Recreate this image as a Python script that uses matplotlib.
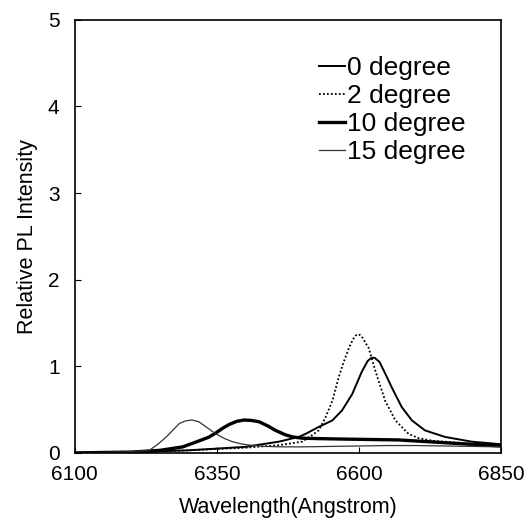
import matplotlib
matplotlib.use('Agg')
import matplotlib.pyplot as plt

plt.rcParams['font.family'] = ['Liberation Sans', 'DejaVu Sans']

# values (wavelength in Angstrom, relative intensity)
wl_0deg = [6100, 6200, 6300, 6400, 6459, 6494, 6506, 6529, 6553, 6570, 6588, 6605,
           6615, 6620, 6624, 6628, 6636, 6645, 6658, 6675, 6693, 6716, 6751, 6798, 6850]
pl_0deg = [0.0, 0.01, 0.03, 0.07, 0.13, 0.185, 0.22, 0.30, 0.375, 0.49, 0.68, 0.94,
           1.06, 1.09, 1.10, 1.095, 1.05, 0.93, 0.75, 0.53, 0.375, 0.26, 0.185, 0.13, 0.10]

wl_2deg = [6100, 6200, 6300, 6400, 6460, 6500, 6512, 6529, 6541, 6553, 6564, 6573, 6582,
           6590, 6594, 6598, 6602, 6606, 6617, 6629, 6646, 6664, 6687, 6705, 6730, 6770,
           6810, 6850]
pl_2deg = [0.0, 0.01, 0.03, 0.06, 0.09, 0.13, 0.18, 0.26, 0.41, 0.60, 0.87, 1.05, 1.21,
           1.32, 1.355, 1.37, 1.36, 1.33, 1.21, 0.94, 0.60, 0.375, 0.22, 0.17, 0.14, 0.12,
           0.10, 0.08]

wl_10deg = [6100, 6200, 6250, 6290, 6319, 6335, 6348, 6360, 6372, 6385, 6398, 6411, 6424,
            6440, 6453, 6470, 6483, 6500, 6530, 6570, 6620, 6670, 6720, 6770, 6810, 6850]
pl_10deg = [0.0, 0.01, 0.03, 0.07, 0.14, 0.18, 0.23, 0.285, 0.33, 0.365, 0.38, 0.375, 0.36,
            0.31, 0.26, 0.21, 0.185, 0.17, 0.165, 0.16, 0.155, 0.15, 0.13, 0.11, 0.095, 0.08]

wl_15deg = [6100, 6150, 6200, 6231, 6246, 6261, 6275, 6284, 6295, 6306, 6318, 6331, 6348,
            6362, 6377, 6392, 6407, 6435, 6465, 6500, 6550, 6600, 6650, 6700, 6750, 6800, 6850]
pl_15deg = [0.0, 0.005, 0.015, 0.03, 0.10, 0.185, 0.28, 0.34, 0.37, 0.38, 0.36, 0.30, 0.22,
            0.17, 0.13, 0.105, 0.09, 0.075, 0.07, 0.07, 0.075, 0.08, 0.085, 0.085, 0.08,
            0.075, 0.07]

fig = plt.figure(figsize=(5.27, 5.23), dpi=100)
ax = fig.add_axes([0.142, 0.134, 0.809, 0.828])

ax.plot(wl_0deg, pl_0deg, color='black', lw=1.4, label='0 degree')
ax.plot(wl_2deg, pl_2deg, color='black', lw=1.3, ls=(0, (1, 1.2)), label='2 degree')
ax.plot(wl_10deg, pl_10deg, color='black', lw=2.4, label='10 degree')
ax.plot(wl_15deg, pl_15deg, color='#333333', lw=0.9, label='15 degree')

ax.set_xlim(6100, 6850)
ax.set_ylim(0, 5)
ax.set_xticks([6100, 6350, 6600, 6850])
ax.set_yticks([0, 1, 2, 3, 4, 5])
ax.tick_params(direction='in', length=4, width=0.8, labelsize=15)
ax.tick_params(axis='x', pad=9)
ax.tick_params(axis='y', pad=11)
for s in ax.spines.values():
    s.set_linewidth(1.2)

ax.set_xlabel('Wavelength(Angstrom)', fontsize=15.5, labelpad=9)
ax.set_ylabel('Relative PL Intensity', fontsize=15.5, labelpad=7)

ax.legend(loc='upper right', bbox_to_anchor=(0.94, 0.94), frameon=False, fontsize=19,
          handlelength=1.0, handletextpad=0.05, labelspacing=0.15, borderaxespad=0)

fig.savefig('out.png', dpi=100)
